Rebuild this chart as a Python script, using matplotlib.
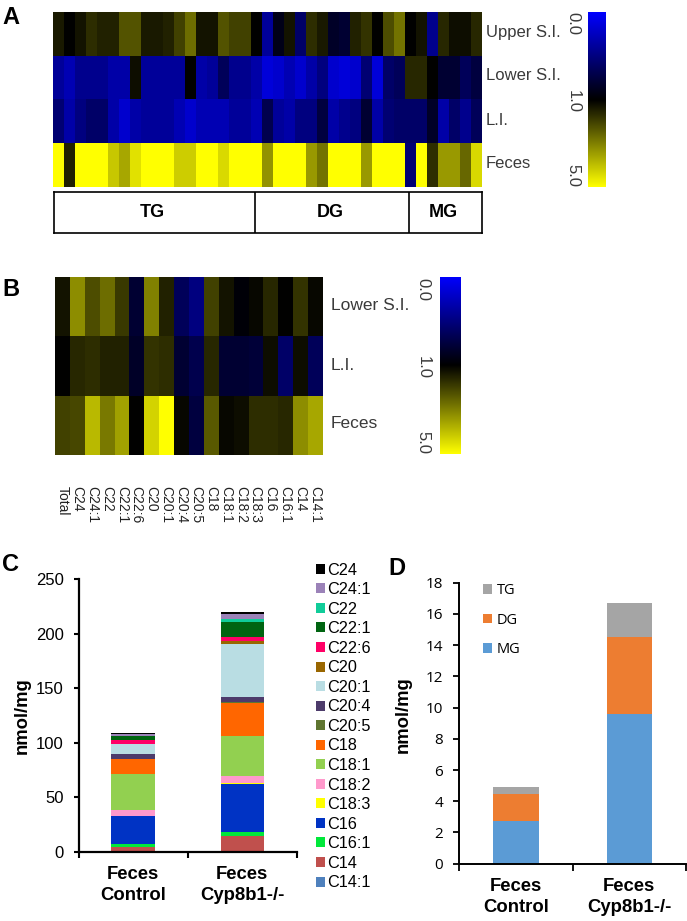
import numpy as np
import matplotlib
matplotlib.use("Agg")
import matplotlib.pyplot as plt
from matplotlib.colors import LinearSegmentedColormap, TwoSlopeNorm

W, H = 687, 921

# Panel A
rows_a = ["Upper S.I.", "Lower S.I.", "L.I.", "Feces"]
upper_si = [1.4,1.0,1.3,1.7,1.5,1.5,2.3,2.3,1.4,1.4,1.5,2.0,2.7,1.3,1.3,2.3,2.0,2.0,1.0,0.4,
            0.9,1.3,0.6,1.7,1.4,0.85,0.8,1.5,1.8,1.0,2.2,2.8,1.0,1.3,0.45,1.6,1.2,1.2,1.6]
lower_si = [.4,.3,.45,.45,.45,.35,.35,1.2,.4,.4,.4,.4,1.0,.35,.4,.65,.45,.45,.35,.15,
            .2,.3,.2,.35,.5,.2,.15,.2,.55,.15,.6,.65,1.6,1.6,1.0,.8,.8,.65,.75]
large_int = [.55,.35,.5,.6,.6,.35,.2,.35,.4,.4,.4,.3,.2,.3,.3,.3,.4,.4,.3,.7,
             .4,.35,.5,.5,.75,.35,.45,.5,.8,.35,.55,.6,.6,.6,.85,.35,.6,.45,.65]
feces = [5,1.5,5,5,5,4.1,3.6,4.5,5,5,5,4.2,4.2,5,5,4.4,5,5,5,3.3,
         5,5,5,3.4,2.8,5,5,5,3.4,5,5,5,.55,5,1.7,3.4,3.4,2.6,4.4]
groups = ["TG", "DG", "MG"]

# Panel B
rows_b = ["Lower S.I.", "L.I.", "Feces"]
species_b = ["Total","C24","C24:1","C22","C22:1","C22:6","C20","C20:1","C20:4","C20:5",
             "C18","C18:1","C18:2","C18:3","C16","C16:1","C14","C14:1"]
b_lower = [1.3,3.2,2.2,2.7,1.9,.8,3.0,1.5,.65,.5,2.0,1.3,.97,1.1,1.6,1.0,1.8,1.1]
b_li = [1.0,1.6,1.7,1.5,1.5,.85,1.8,1.7,.8,.7,1.6,.8,.8,.78,1.2,.6,1.2,.65]
b_feces = [2.0,2.1,3.9,2.9,3.5,1.0,4.3,5.0,1.1,.75,2.4,1.1,1.2,1.7,1.7,1.6,3.2,3.6]
scale_ticks = [0.0, 1.0, 5.0]

# Panel C
groups_cd = ["Feces\nControl", "Feces\nCyp8b1-/-"]
species_c = ["C14:1","C14","C16:1","C16","C18:3","C18:2","C18:1","C18","C20:5","C20:4",
             "C20:1","C20","C22:6","C22:1","C22","C24:1","C24"]
control_c = [.1,4.2,2.7,26,.3,5.5,32.9,13.3,.3,4.1,9.2,.4,3.3,3.7,.3,1.5,1.2]
knockout_c = [.1,14.5,3.7,44.3,.2,6.8,36.9,30.3,.6,4.2,48.6,3.3,3.5,14,2.4,4.6,2]
colors_c = ["#4F81BD","#C0504D","#00E83A","#0033C4","#FFFF00","#FF99CC","#92D050","#FF6600",
            "#5F7530","#4D3B6B","#B9DDE3","#996600","#FF0066","#006411","#10CC99","#9B82B8","#000000"]

# Panel D
species_d = ["MG", "DG", "TG"]
mg = [2.75, 9.6]
dg = [1.7, 4.95]
tg = [.45, 2.15]
colors_d = ["#5B9BD5", "#ED7D31", "#A5A5A5"]

cmap = LinearSegmentedColormap.from_list("byy", ["#0000FF", "#000000", "#FFFF00"])
norm = TwoSlopeNorm(vmin=0, vcenter=1, vmax=5)
fig = plt.figure(figsize=(W/100, H/100), dpi=100, facecolor="white")
SANS = "Liberation Sans"


def axpx(x0, y0, x1, y1):
    return fig.add_axes([x0/W, 1-y1/H, (x1-x0)/W, (y1-y0)/H])


def tpx(x, y, s, **kw):
    kw.setdefault("va", "center")
    kw.setdefault("family", SANS)
    return fig.text(x/W, 1-y/H, s, **kw)


def heat(box, data):
    ax = axpx(*box)
    ax.imshow(np.array(data), cmap=cmap, norm=norm, aspect="auto", interpolation="nearest")
    ax.axis("off")
    return ax


def cbar(box):
    ax = axpx(*box)
    ax.imshow(np.linspace(0, 1, 256)[:, None], cmap=cmap, aspect="auto")
    ax.axis("off")


GREY = "#3a3a3a"
heat((53.3, 12, 482, 187), [upper_si, lower_si, large_int, feces])
for y, s in zip([32, 76, 120, 163], rows_a):
    tpx(486, y, s, fontsize=12, color=GREY)
cbar((588, 12, 606, 187))
for y, v in zip([24, 101, 176], scale_ticks):
    tpx(573, y, f"{v:.1f}", fontsize=12, color=GREY, rotation=-90, ha="center")

box = axpx(54, 192, 482, 233)
box.set_xlim(54, 482)
box.set_ylim(0, 1)
box.set_xticks([])
box.set_yticks([])
for sp in box.spines.values():
    sp.set_linewidth(1.2)
box.axvline(255, color="k", lw=1.2)
box.axvline(409, color="k", lw=1.2)
for x, s in zip([152.5, 330, 443.5], groups):
    box.text(x, .5, s, fontsize=13, fontweight="bold", ha="center", va="center", family=SANS)

heat((55, 277, 322.5, 455), [b_lower, b_li, b_feces])
for y, s in zip([305, 365, 423], rows_b):
    tpx(331, y, s, fontsize=12.5, color=GREY)
cbar((440, 277, 461, 454))
for y, v in zip([290, 367, 442], scale_ticks):
    tpx(423, y, f"{v:.1f}", fontsize=12, color=GREY, rotation=-90, ha="center")
colw = (322.5-55)/len(species_b)
for i, s in enumerate(species_b):
    tpx(55+colw*(i+.5), 486, s, fontsize=10, color="#222222", rotation=-90, ha="center", va="top")

# Panel C
axc = axpx(78.5, 579, 297, 852)
x = np.arange(2)
bot = np.zeros(2)
handles = []
for name, a, b, c in zip(species_c, control_c, knockout_c, colors_c):
    h = axc.bar(x, [a, b], .4, bottom=bot, color=c, label=name, linewidth=0)
    handles.append(h)
    bot += np.array([a, b])
axc.set_xlim(-.5, 1.5)
axc.set_ylim(0, 250)
axc.set_yticks(range(0, 251, 50))
axc.set_xticks([-.5, .5, 1.5])
axc.set_xticklabels([])
axc.tick_params(axis="y", labelsize=12, length=3.6, width=1.5, pad=7)
axc.tick_params(axis="x", length=4, width=1.5)
for t in axc.get_yticklabels():
    t.set_family(SANS)
for s in ["top", "right"]:
    axc.spines[s].set_visible(False)
for s in ["left", "bottom"]:
    axc.spines[s].set_linewidth(1.6)
for xx, s in zip([133, 242], groups_cd):
    tpx(xx, 885, s, fontsize=13.3, fontweight="bold", ha="center", linespacing=1.3)
tpx(22, 715.5, "nmol/mg", fontsize=13.3, fontweight="bold", rotation=90, ha="center")
fig.legend(handles[::-1], species_c[::-1], loc="upper left", bbox_to_anchor=(315.5/W, 1-562.5/H),
           frameon=False, prop={"family": SANS, "size": 11.7}, borderpad=0, borderaxespad=0,
           handlelength=.57, handleheight=.57, handletextpad=.17, labelspacing=.28)

# Panel D
axd = axpx(459.3, 582.7, 686, 863.7)
bot = np.zeros(2)
hd = []
for name, vals, c in zip(species_d, [mg, dg, tg], colors_d):
    hd.append(axd.bar(x, vals, .4, bottom=bot, color=c, linewidth=0))
    bot += np.array(vals)
axd.set_xlim(-.5, 1.5)
axd.set_ylim(0, 18)
axd.set_yticks(range(0, 19, 2))
axd.set_xticks([-.5, .5, 1.5])
axd.set_xticklabels([])
axd.tick_params(axis="y", labelsize=11, length=4.5, width=1.3, pad=7)
axd.tick_params(axis="x", length=5, width=1.3)
for t in axd.get_yticklabels():
    t.set_family("Open Sans")
for s in ["top", "right"]:
    axd.spines[s].set_visible(False)
for s in ["left", "bottom"]:
    axd.spines[s].set_linewidth(1.4)
for xx, s in zip([516, 629], groups_cd):
    tpx(xx, 897, s, fontsize=13.3, fontweight="bold", ha="center", linespacing=1.3)
tpx(403, 715, "nmol/mg", fontsize=13.3, fontweight="bold", rotation=90, ha="center")
fig.legend(hd[::-1], species_d[::-1], loc="upper left", bbox_to_anchor=(483/W, 1-583/H), frameon=False,
           prop={"family": "Open Sans", "size": 10.5}, borderpad=0, borderaxespad=0,
           handlelength=.62, handleheight=.62, handletextpad=.34, labelspacing=1.0)

for x0, y0, s in [(2, 18, "A"), (2, 290, "B"), (2, 564, "C"), (388, 568, "D")]:
    tpx(x0, y0, s, fontsize=17, fontweight="bold")

fig.savefig("out.png", dpi=100)
